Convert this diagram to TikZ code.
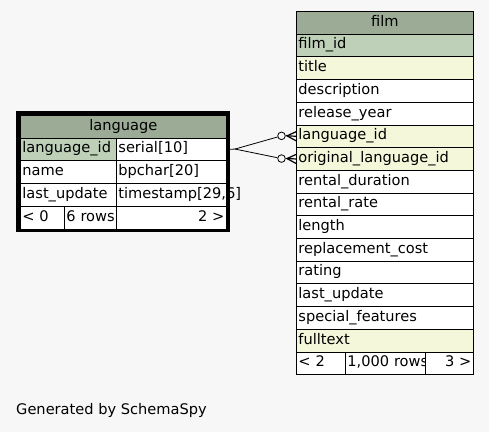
\documentclass[tikz,border=0pt]{standalone}
\usepackage{fontspec}
\setmainfont{DejaVu Sans}
\definecolor{bgcol}{HTML}{F7F7F7}
\definecolor{headcol}{HTML}{9BAB96}
\definecolor{pkcol}{HTML}{BED1B8}
\definecolor{idxcol}{HTML}{F4F7DA}
\tikzset{every picture/.style={x=1pt,y=-1pt,font=\fontsize{14.6}{17}\selectfont}}
\tikzset{cell/.style={draw,fill=white,anchor=north west,inner xsep=2pt,inner ysep=0pt,minimum height=22.7pt,text height=10pt,text depth=3pt,align=left,line width=.8pt}}
\tikzset{head/.style={cell,fill=headcol,align=center}}
\tikzset{pk/.style={cell,fill=pkcol}}
\tikzset{idx/.style={cell,fill=idxcol}}
\tikzset{optional/.style={circle,draw,inner sep=0pt,minimum size=7.6pt,line width=.8pt}}
\tikzset{edge/.style={line width=.8pt}}
\tikzset{crow/.style={line width=1.2pt}}
\begin{document}
\begin{tikzpicture}
\fill [bgcol] (0,0) rectangle (489,432);
\useasboundingbox (0,0) rectangle (489,432);

% language
\draw [line width=3.5pt] (18,113) rectangle (228,230.5);
\node [head,text width=202pt] (lang-head) at (20,115) {language};
\node [pk,text width=92pt] (lang-id) at (20,137.7) {language\_id};
\node [cell,text width=106pt] (lang-id-type) at (116,137.7) {serial[10]};
\node [cell,text width=92pt] (lang-name) at (20,160.4) {name};
\node [cell,text width=106pt] (lang-name-type) at (116,160.4) {bpchar[20]};
\node [cell,text width=92pt] (lang-upd) at (20,183.1) {last\_update};
\node [cell,text width=106pt] (lang-upd-type) at (116,183.1) {\rlap{timestamp[29,6]}};
\node [cell,text width=40pt] (lang-prev) at (20,205.8) {\rlap{< 0}};
\node [cell,text width=48pt] (lang-rows) at (64,205.8) {\rlap{6 rows}};
\node [cell,text width=106pt,align=right] (lang-next) at (116,205.8) {2 >};

% film
\node [head,text width=173pt] (film-head) at (296,11) {film};
\node [pk,text width=173pt] (film-id) at (296,33.7) {film\_id};
\node [idx,text width=173pt] (film-title) at (296,56.4) {title};
\node [cell,text width=173pt] (film-desc) at (296,79.1) {description};
\node [cell,text width=173pt] (film-year) at (296,101.8) {release\_year};
\node [idx,text width=173pt] (film-langid) at (296,124.5) {language\_id};
\node [idx,text width=173pt] (film-origid) at (296,147.2) {original\_language\_id};
\node [cell,text width=173pt] (film-dur) at (296,169.9) {rental\_duration};
\node [cell,text width=173pt] (film-rate) at (296,192.6) {rental\_rate};
\node [cell,text width=173pt] (film-len) at (296,215.3) {length};
\node [cell,text width=173pt] (film-cost) at (296,238) {replacement\_cost};
\node [cell,text width=173pt] (film-rating) at (296,260.7) {rating};
\node [cell,text width=173pt] (film-upd) at (296,283.4) {last\_update};
\node [cell,text width=173pt] (film-feat) at (296,306.1) {special\_features};
\node [idx,text width=173pt] (film-text) at (296,328.8) {fulltext};
\node [cell,text width=45pt] (film-prev) at (296,351.5) {\rlap{< 2}};
\node [cell,text width=76pt] (film-rows) at (345,351.5) {\rlap{1,000 rows}};
\node [cell,text width=44pt,align=right] (film-next) at (425,351.5) {3 >};

% relationships
\coordinate (fork) at (235,149.05);
\node [optional] (o1) at (281.5,135.85) {};
\node [optional] (o2) at (281.5,158.55) {};
\coordinate (c1) at (287,135.85);
\coordinate (c2) at (287,158.55);
\draw [edge] (lang-id-type.east) -- (fork);
\draw [edge] (fork) -- (o1);
\draw [edge] (fork) -- (o2);
\draw [edge] (o1) -- (c1);
\draw [edge] (o2) -- (c2);
\draw [crow] ([yshift=4.5pt]film-langid.west) -- (c1) -- ([yshift=-4.5pt]film-langid.west);
\draw [crow] (c1) -- (film-langid.west);
\draw [crow] ([yshift=4.5pt]film-origid.west) -- (c2) -- ([yshift=-4.5pt]film-origid.west);
\draw [crow] (c2) -- (film-origid.west);

\node [anchor=west,inner sep=0pt] (credit) at (16,410) {Generated by SchemaSpy};
\end{tikzpicture}
\end{document}
